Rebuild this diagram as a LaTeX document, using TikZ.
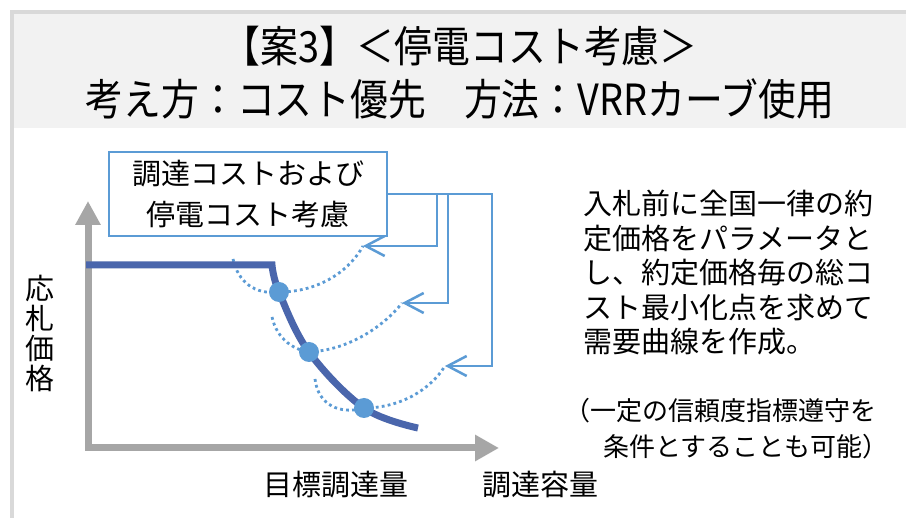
\documentclass[tikz,border=0pt]{standalone}
\usepackage{fontspec}
\setmainfont{Noto Sans CJK JP}
\newfontfamily\titlefont{Noto Sans CJK JP}[FakeStretch=0.88]
\usetikzlibrary{arrows.meta}
\definecolor{frameg}{HTML}{D9D9D9}
\definecolor{headg}{HTML}{F2F2F2}
\definecolor{lblue}{HTML}{5B9BD5}
\definecolor{dblue}{HTML}{4A66AC}
\definecolor{axisg}{HTML}{A6A6A6}
\begin{document}
\begin{tikzpicture}[x=1pt,y=-1pt,
  axisline/.style={axisg, line width=7pt, line join=miter,
    {Triangle[length=24pt,width=24pt]}-{Triangle[length=24pt,width=25pt]}},
  demand/.style={dblue, line width=7pt, line join=miter},
  dotpath/.style={lblue, line width=2.8pt, dash pattern=on 2.8pt off 3.2pt},
  pointdot/.style={circle, fill=lblue, minimum size=20pt, inner sep=0},
  conn/.style={lblue, line width=2.5pt, -{Straight Barb[length=19pt,width=20pt]}},
  boxstyle/.style={draw=lblue, line width=2pt, fill=white, minimum width=278pt,
    minimum height=84pt, align=center, inner sep=0, font=\fontsize{29}{41}\selectfont},
  lbl/.style={font=\fontsize{29}{30}\selectfont, align=center, inner sep=0},
  notestyle/.style={anchor=west, inner sep=0, font=\fontsize{26}{36}\selectfont}
]
\useasboundingbox (0,0) rectangle (906,518);
\fill[white] (0,0) rectangle (906,518);
\fill[headg] (14,14) rectangle (906,128);
\draw[frameg, line width=4pt] (12,518) -- (12,12) -- (906,12);

% title
\node[font=\titlefont\fontsize{43}{53}\selectfont, align=center, inner sep=0] (title) at (460,73)
  {【案3】＜停電コスト考慮＞\\考え方：コスト優先　方法：VRRカーブ使用};

% coordinates
\coordinate (ytip) at (88,201);
\coordinate (orig) at (88,448);
\coordinate (xtip) at (499,448);
\coordinate (k0) at (272,265);
\coordinate (c1) at (279,292);
\coordinate (c2) at (309,352);
\coordinate (c3) at (364,408);
\coordinate (kend) at (418,428);
\coordinate (s1) at (233,259);
\coordinate (s2) at (272,317);
\coordinate (s3) at (315,379);
\coordinate (t1) at (363,246);
\coordinate (t2) at (402,303);
\coordinate (t3) at (445,366);
\coordinate (m1) at (437,246);
\coordinate (m2) at (448,303);
\coordinate (m3) at (492,366);

% axes
\draw[axisline] (ytip) -- (orig) -- (xtip);

% dotted cost curves
\draw[dotpath] (s1) .. controls (238,282) and (255,295) .. (c1)
  .. controls (320,292) and (350,270) .. (t1);
\draw[dotpath] (s2) .. controls (277,340) and (295,350) .. (c2)
  .. controls (350,350) and (385,325) .. (t2);
\draw[dotpath] (s3) .. controls (318,405) and (340,415) .. (c3)
  .. controls (400,408) and (430,390) .. (t3);

% demand curve
\draw[demand] (86,265) -- plot[smooth, tension=0.6] coordinates {(k0) (c1) (c2) (c3) (kend)};

\node[pointdot] (p1) at (c1) {};
\node[pointdot] (p2) at (c2) {};
\node[pointdot] (p3) at (c3) {};

% box and connectors
\node[boxstyle] (box) at (248,194) {調達コストおよび\\停電コスト考慮};
\draw[conn] (box.east) -| (m1) -- (t1);
\draw[conn] (box.east) -| (m2) -- (t2);
\draw[conn] (box.east) -| (m3) -- (t3);

% labels
\node[lbl] (ylab) at (40,333) {応\\札\\価\\格};
\node[lbl] (target) at (336,485) {目標調達量};
\node[lbl] (capacity) at (540,485) {調達容量};

\node[anchor=west, align=left, inner sep=0, font=\fontsize{29}{34.5}\selectfont] (desc) at (583,273)
  {入札前に全国一律の約\\定価格をパラメータと\\し、約定価格毎の総コ\\スト最小化点を求めて\\需要曲線を作成。};
\node[notestyle] (note1) at (564,411) {（一定の信頼度指標遵守を};
\node[notestyle] (note2) at (603,447) {条件とすることも可能）};
\end{tikzpicture}
\end{document}
